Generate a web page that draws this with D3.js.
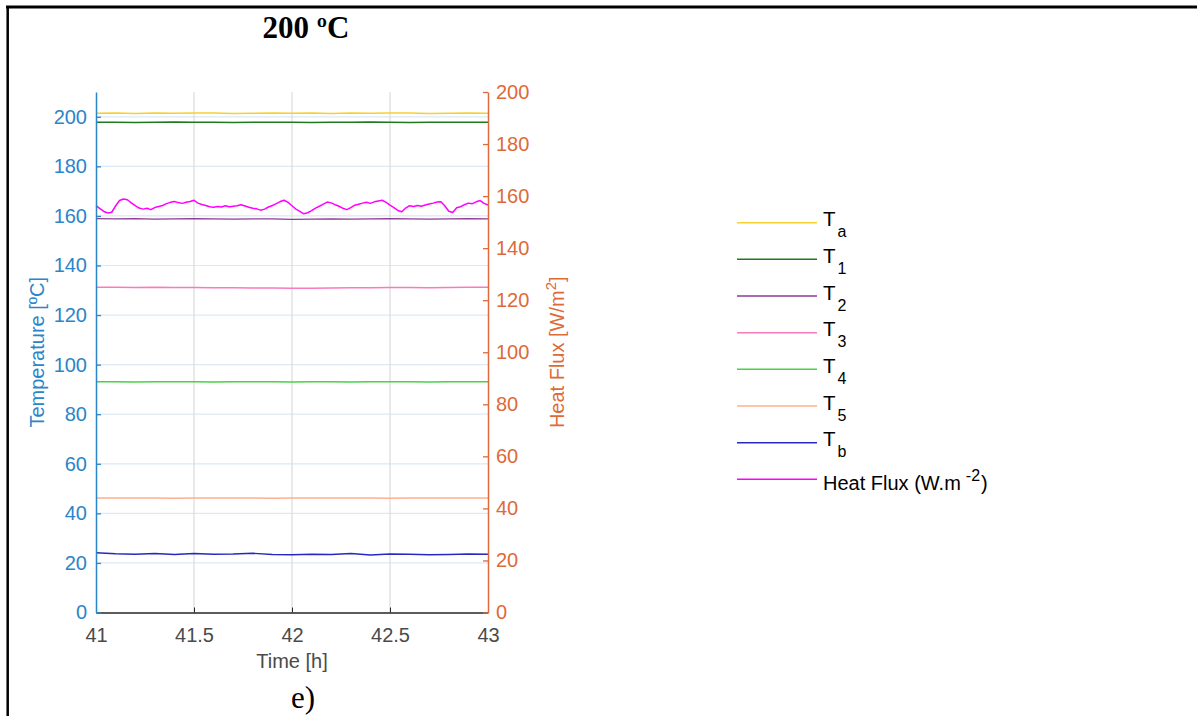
<!DOCTYPE html>
<html>
<head>
<meta charset="utf-8">
<script src="https://cdn.jsdelivr.net/npm/d3@7"></script>
<style>
  html, body { margin: 0; padding: 0; background: #fff; }
  svg { display: block; }
</style>
</head>
<body>
<svg id="chart" width="1197" height="716"></svg>
<script>
// ---------------- data ----------------
const titleText = "200 ºC";
const panelLabel = "e)";
const xTicks = [41, 41.5, 42, 42.5, 43];
const leftTicks = [0, 20, 40, 60, 80, 100, 120, 140, 160, 180, 200];
const rightTicks = [0, 20, 40, 60, 80, 100, 120, 140, 160, 180, 200];

const timeFlat = [41.0, 41.1, 41.2, 41.3, 41.4, 41.5, 41.6, 41.7, 41.8, 41.9, 42.0,
                  42.1, 42.2, 42.3, 42.4, 42.5, 42.6, 42.7, 42.8, 42.9, 43.0];
const Ta = [201.4, 201.5, 201.3, 201.5, 201.4, 201.5, 201.5, 201.3, 201.4, 201.5, 201.4,
            201.5, 201.3, 201.5, 201.4, 201.5, 201.5, 201.3, 201.4, 201.5, 201.4];
const T1 = [197.8, 197.8, 197.7, 197.8, 197.9, 197.8, 197.8, 197.7, 197.8, 197.8, 197.8,
            197.7, 197.8, 197.8, 197.9, 197.8, 197.7, 197.8, 197.8, 197.8, 197.8];
const T2 = [158.9, 158.8, 158.9, 158.7, 158.8, 158.9, 158.8, 158.7, 158.8, 158.8, 158.6,
            158.7, 158.8, 158.7, 158.8, 158.9, 158.8, 158.7, 158.8, 158.9, 158.8];
const T3 = [131.2, 131.2, 131.1, 131.2, 131.1, 131.1, 131.0, 131.0, 130.9, 130.9, 130.8,
            130.8, 130.9, 131.0, 131.0, 131.1, 131.1, 131.0, 131.1, 131.2, 131.2];
const T4 = [93.1, 93.1, 93.0, 93.1, 93.1, 93.1, 93.0, 93.1, 93.1, 93.1, 93.0,
            93.1, 93.1, 93.0, 93.1, 93.1, 93.1, 93.0, 93.1, 93.1, 93.1];
const T5 = [46.2, 46.2, 46.2, 46.2, 46.1, 46.2, 46.2, 46.2, 46.2, 46.1, 46.2,
            46.2, 46.2, 46.2, 46.2, 46.1, 46.2, 46.2, 46.2, 46.2, 46.2];
const Tb = [24.1, 23.7, 23.5, 23.8, 23.4, 23.8, 23.5, 23.6, 23.9, 23.4, 23.3,
            23.5, 23.4, 23.8, 23.2, 23.6, 23.5, 23.3, 23.4, 23.6, 23.5];

const timeFlux = [41.00, 41.02, 41.04, 41.06, 41.08, 41.10, 41.12, 41.14, 41.16, 41.18,
                  41.20, 41.22, 41.24, 41.26, 41.28, 41.30, 41.32, 41.34, 41.36, 41.38,
                  41.40, 41.42, 41.44, 41.46, 41.48, 41.50, 41.52, 41.54, 41.56, 41.58,
                  41.60, 41.62, 41.64, 41.66, 41.68, 41.70, 41.72, 41.74, 41.76, 41.78,
                  41.80, 41.82, 41.84, 41.86, 41.88, 41.90, 41.92, 41.94, 41.96, 41.98,
                  42.00, 42.02, 42.04, 42.06, 42.08, 42.10, 42.12, 42.14, 42.16, 42.18,
                  42.20, 42.22, 42.24, 42.26, 42.28, 42.30, 42.32, 42.34, 42.36, 42.38,
                  42.40, 42.42, 42.44, 42.46, 42.48, 42.50, 42.52, 42.54, 42.56, 42.58,
                  42.60, 42.62, 42.64, 42.66, 42.68, 42.70, 42.72, 42.74, 42.76, 42.78,
                  42.80, 42.82, 42.84, 42.86, 42.88, 42.90, 42.92, 42.94, 42.96, 42.98, 43.00];
const heatFlux = [156.3, 155.2, 154.1, 153.5, 153.8, 156.2, 158.3, 158.9, 158.6, 157.4,
                  156.3, 155.4, 155.0, 155.3, 154.8, 155.6, 156.0, 156.4, 157.1, 157.6,
                  157.9, 157.5, 157.2, 157.6, 157.9, 158.4, 157.3, 156.8, 156.4, 155.9,
                  155.7, 156.0, 155.8, 156.3, 155.9, 156.1, 156.3, 156.7, 156.2, 155.7,
                  155.3, 155.1, 154.6, 155.0, 155.8, 156.4, 157.1, 157.9, 158.4, 157.6,
                  156.3, 155.0, 154.1, 153.2, 153.6, 154.4, 155.4, 156.1, 156.9, 157.7,
                  157.4, 156.7, 156.1, 155.3, 154.8, 155.6, 156.5, 156.9, 157.3, 157.6,
                  157.2, 157.8, 158.1, 158.4, 157.6, 156.5, 155.6, 154.5, 154.0, 155.4,
                  156.3, 156.0, 156.4, 156.1, 156.6, 157.0, 157.3, 157.7, 157.8, 156.2,
                  154.2, 153.7, 155.5, 155.9, 156.7, 157.3, 157.1, 157.8, 158.3, 157.2, 156.6];

const seriesNames = ["Ta", "T1", "T2", "T3", "T4", "T5", "Tb"];
const seriesSubs  = ["a", "1", "2", "3", "4", "5", "b"];
const seriesColors = ["#f5d030", "#1f7a1f", "#8e3a96", "#f77bbf", "#44d444", "#ffb08f", "#2828c0"];
const fluxColor = "#ff00ff";
const tempSeries = [Ta, T1, T2, T3, T4, T5, Tb];

// ---------------- layout ----------------
const svg = d3.select("#chart");
const L = 96, R = 488, T = 92, B = 612.5;
const leftColor = "#2a85c9", rightColor = "#dd6a38", axisGray = "#262626";
const FONT = "'Liberation Sans', Arial, Helvetica, sans-serif";
const SERIF = "'Liberation Serif', 'Times New Roman', serif";

const x = d3.scaleLinear().domain([41, 43]).range([L, R]);
const yL = d3.scaleLinear().domain([0, 210]).range([B, T]);
const yR = d3.scaleLinear().domain([0, 200]).range([B, T]);

// outer frame
svg.append("line").attr("x1", 6).attr("x2", 1197).attr("y1", 7).attr("y2", 7)
  .attr("stroke", "#000").attr("stroke-width", 3);
svg.append("line").attr("x1", 7.7).attr("x2", 7.7).attr("y1", 6).attr("y2", 716)
  .attr("stroke", "#000").attr("stroke-width", 2.5);

// title
svg.append("text").attr("x", 306).attr("y", 38).attr("text-anchor", "middle")
  .attr("font-family", SERIF).attr("font-weight", "bold").attr("font-size", 31)
  .attr("fill", "#000").text(titleText);
svg.append("text").attr("x", 303).attr("y", 708).attr("text-anchor", "middle")
  .attr("font-family", SERIF).attr("font-size", 31)
  .attr("fill", "#000").text(panelLabel);

// grid
const grid = svg.append("g");
grid.selectAll("line.h").data(leftTicks.filter(d => d > 0)).enter().append("line")
  .attr("x1", L).attr("x2", R).attr("y1", d => yL(d)).attr("y2", d => yL(d))
  .attr("stroke", "#dce9f5").attr("stroke-width", 1.2);
grid.selectAll("line.v").data(xTicks.filter(d => d > 41 && d < 43)).enter().append("line")
  .attr("x1", d => x(d)).attr("x2", d => x(d)).attr("y1", T).attr("y2", B)
  .attr("stroke", "#dadada").attr("stroke-width", 1.2);

// data lines
const plot = svg.append("g");
const lineL = d3.line().x(d => x(d[0])).y(d => yL(d[1]));
const lineR = d3.line().x(d => x(d[0])).y(d => yR(d[1]));
tempSeries.forEach((s, i) => {
  plot.append("path").datum(timeFlat.map((t, j) => [t, s[j]]))
    .attr("d", lineL).attr("fill", "none")
    .attr("stroke", seriesColors[i]).attr("stroke-width", 1.4);
});
plot.append("path").datum(timeFlux.map((t, j) => [t, heatFlux[j]]))
  .attr("d", lineR).attr("fill", "none")
  .attr("stroke", fluxColor).attr("stroke-width", 1.5).attr("stroke-linejoin", "round");

// axes
const gx = svg.append("g").attr("transform", `translate(0,${B})`)
  .call(d3.axisBottom(x).tickValues(xTicks).tickSize(-5).tickSizeOuter(0).tickPadding(15)
        .tickFormat(d3.format("")));
gx.select(".domain").attr("stroke", axisGray).attr("stroke-width", 1.3);
gx.selectAll(".tick line").attr("stroke", axisGray);
gx.selectAll(".tick text").attr("fill", "#4a4a4a").attr("font-size", 20).attr("font-family", FONT);

const gl = svg.append("g").attr("transform", `translate(${L},0)`)
  .call(d3.axisLeft(yL).tickValues(leftTicks).tickSize(-5).tickSizeOuter(0).tickPadding(9));
gl.select(".domain").attr("stroke", leftColor).attr("stroke-width", 1.5);
gl.selectAll(".tick line").attr("stroke", leftColor).attr("stroke-width", 1.3);
gl.selectAll(".tick text").attr("fill", leftColor).attr("font-size", 20).attr("font-family", FONT);

const gr = svg.append("g").attr("transform", `translate(${R},0)`)
  .call(d3.axisRight(yR).tickValues(rightTicks).tickSize(-5).tickSizeOuter(0).tickPadding(8));
gr.select(".domain").attr("stroke", rightColor).attr("stroke-width", 1.5);
gr.selectAll(".tick line").attr("stroke", rightColor).attr("stroke-width", 1.3);
gr.selectAll(".tick text").attr("fill", rightColor).attr("font-size", 20).attr("font-family", FONT);

// axis labels
svg.append("text").attr("transform", `translate(44,${(T + B) / 2}) rotate(-90)`)
  .attr("text-anchor", "middle").attr("font-family", FONT).attr("font-size", 20)
  .attr("fill", leftColor).text("Temperature [ºC]");
const rl = svg.append("text").attr("transform", `translate(564,${(T + B) / 2}) rotate(-90)`)
  .attr("text-anchor", "middle").attr("font-family", FONT).attr("font-size", 20)
  .attr("fill", rightColor);
rl.append("tspan").text("Heat Flux [W/m");
rl.append("tspan").attr("dy", -8).attr("font-size", 15).text("2");
rl.append("tspan").attr("dy", 8).text("]");
svg.append("text").attr("x", (L + R) / 2).attr("y", 668).attr("text-anchor", "middle")
  .attr("font-family", FONT).attr("font-size", 20).attr("fill", "#4a4a4a").text("Time [h]");

// legend
const leg = svg.append("g");
const legY0 = 222.7, legStep = 36.66;
seriesNames.forEach((n, i) => {
  const yy = legY0 + i * legStep;
  leg.append("line").attr("x1", 737).attr("x2", 817).attr("y1", yy).attr("y2", yy)
    .attr("stroke", seriesColors[i]).attr("stroke-width", 1.5);
  const t = leg.append("text").attr("x", 823).attr("y", yy + 3.5)
    .attr("font-family", FONT).attr("font-size", 20.5).attr("fill", "#000");
  t.append("tspan").text("T");
  t.append("tspan").attr("dx", 2).attr("dy", 11).attr("font-size", 16).text(seriesSubs[i]);
});
{
  const yy = legY0 + seriesNames.length * legStep;
  leg.append("line").attr("x1", 737).attr("x2", 817).attr("y1", yy).attr("y2", yy)
    .attr("stroke", fluxColor).attr("stroke-width", 1.5);
  const t = leg.append("text").attr("x", 823).attr("y", yy + 10.5)
    .attr("font-family", FONT).attr("font-size", 20).attr("fill", "#000");
  t.append("tspan").text("Heat Flux (W.m");
  t.append("tspan").attr("dx", 5).attr("dy", -9).attr("font-size", 16).text("-2");
  t.append("tspan").attr("dx", 1).attr("dy", 9).text(")");
}
</script>
</body>
</html>
